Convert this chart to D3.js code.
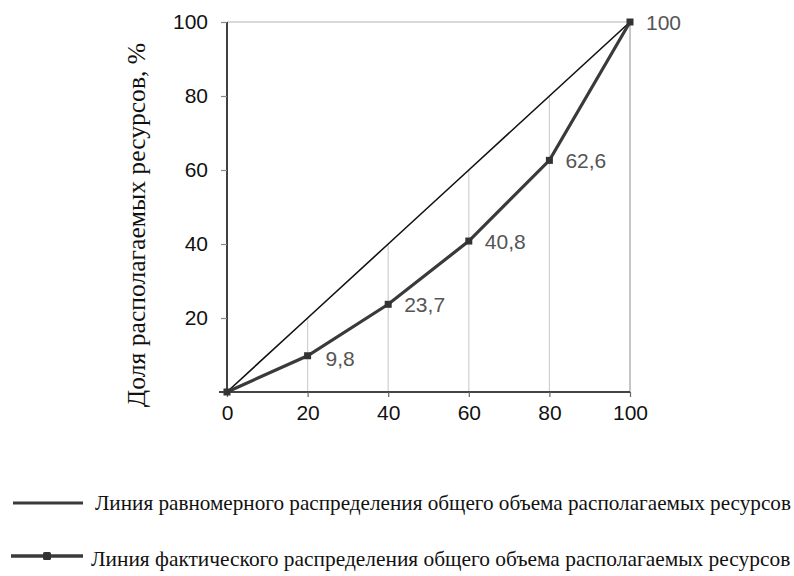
<!DOCTYPE html>
<html><head><meta charset="utf-8">
<script src="https://cdn.jsdelivr.net/npm/d3@7"></script>
<style>body{margin:0;background:#fff;} svg{display:block;}</style>
</head><body>
<svg id="chart" width="794" height="576"></svg>
<script>
const categories = [0, 20, 40, 60, 80, 100];
const equalityValues = [0, 20, 40, 60, 80, 100];
const actualValues = [0, 9.8, 23.7, 40.8, 62.6, 100];
const actualLabels = ["", "9,8", "23,7", "40,8", "62,6", "100"];
const yTickValues = [20, 40, 60, 80, 100];
const xTickValues = [0, 20, 40, 60, 80, 100];
const yTitle = "Доля располагаемых ресурсов, %";
const legendNames = [
  "Линия равномерного распределения общего объема располагаемых ресурсов",
  "Линия фактического распределения общего объема располагаемых ресурсов"
];

const svg = d3.select("#chart");
const x = d3.scaleLinear().domain([0, 100]).range([227, 630]);
const y = d3.scaleLinear().domain([0, 100]).range([392, 22]);
const sans = "Liberation Sans, Arial, sans-serif";
const serif = "Liberation Serif, Times New Roman, serif";

// top gridline
svg.append("line").attr("x1", x(0)).attr("x2", x(100)).attr("y1", y(100)).attr("y2", y(100))
  .attr("stroke", "#b4b4b4").attr("stroke-width", 1.2);

// drop lines up to equality line
svg.append("g").selectAll("line").data(categories.slice(1)).join("line")
  .attr("x1", (d) => x(d)).attr("x2", (d) => x(d))
  .attr("y1", y(0)).attr("y2", (d, i) => y(equalityValues[i + 1]))
  .attr("stroke", (d) => d === 100 ? "#a0a0a0" : "#d0d0d0").attr("stroke-width", 1.2);

// y axis
const yAxis = svg.append("g").attr("transform", `translate(${x(0)},0)`)
  .call(d3.axisLeft(y).tickValues([0, ...yTickValues]).tickSize(6).tickPadding(13)
    .tickFormat((d) => d === 0 ? "" : d));
yAxis.select(".domain").attr("stroke", "#111").attr("stroke-width", 1.6).attr("d", `M0,${y(100)}V${y(0)}`);
yAxis.selectAll(".tick line").attr("stroke", "#888").attr("stroke-width", 1.2);
yAxis.selectAll("text").attr("font-family", sans).attr("font-size", 21).attr("fill", "#111");

// x axis
const xAxis = svg.append("g").attr("transform", `translate(0,${y(0)})`)
  .call(d3.axisBottom(x).tickValues(xTickValues).tickSize(5).tickPadding(8).tickFormat((d) => d));
xAxis.select(".domain").attr("stroke", "#444").attr("stroke-width", 1.8).attr("d", `M${x(0) - 8},0H${x(100)}`);
xAxis.selectAll(".tick line").attr("stroke", "#666").attr("stroke-width", 1.2);
xAxis.selectAll("text").attr("font-family", sans).attr("font-size", 21).attr("fill", "#111");

// equality line
const line = d3.line().x((d) => x(d[0])).y((d) => y(d[1]));
svg.append("path").datum(categories.map((c, i) => [c, equalityValues[i]]))
  .attr("d", line).attr("fill", "none").attr("stroke", "#111").attr("stroke-width", 1.6);

// actual line
const actualPts = categories.map((c, i) => [c, actualValues[i]]);
svg.append("path").datum(actualPts)
  .attr("d", line).attr("fill", "none").attr("stroke", "#3a3a3a").attr("stroke-width", 3.2);
svg.append("g").selectAll("rect").data(actualPts).join("rect")
  .attr("x", (d) => x(d[0]) - 3.5).attr("y", (d) => y(d[1]) - 3.5)
  .attr("width", 7).attr("height", 7).attr("fill", "#333");

// labels
svg.append("g").selectAll("text").data(actualPts.slice(1)).join("text")
  .attr("x", (d) => x(d[0]) + (d[0] === 20 ? 18 : 16))
  .attr("y", (d) => y(d[1]) + (d[0] === 20 ? 10 : 8))
  .attr("font-family", sans).attr("font-size", 21).attr("fill", "#555")
  .text((d, i) => actualLabels[i + 1]);

// y title
svg.append("text").attr("transform", `translate(145,225) rotate(-90)`)
  .attr("text-anchor", "middle").attr("font-family", serif).attr("font-size", 25.6).attr("fill", "#111")
  .text(yTitle);

// legend
const lg = svg.append("g");
lg.append("line").attr("x1", 13).attr("x2", 83).attr("y1", 503).attr("y2", 503)
  .attr("stroke", "#3a3a3a").attr("stroke-width", 3);
lg.append("line").attr("x1", 11).attr("x2", 83).attr("y1", 556).attr("y2", 556)
  .attr("stroke", "#3a3a3a").attr("stroke-width", 3.5);
lg.append("rect").attr("x", 43).attr("y", 552).attr("width", 8).attr("height", 8).attr("rx", 1.5).attr("fill", "#333");
lg.append("text").attr("x", 95).attr("y", 510).attr("font-family", serif).attr("font-size", 21.2).attr("fill", "#111").text(legendNames[0]);
lg.append("text").attr("x", 91).attr("y", 566).attr("font-family", serif).attr("font-size", 21.4).attr("fill", "#111").text(legendNames[1]);
</script>
</body></html>
